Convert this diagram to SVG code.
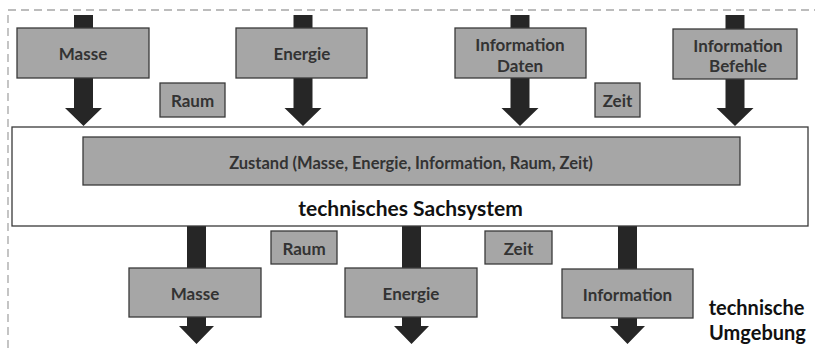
<svg xmlns="http://www.w3.org/2000/svg" width="815" height="351" viewBox="0 0 815 351">
<style>
.box{fill:#a6a6a6;stroke:#3a3a3a;stroke-width:1.3}
.arr{fill:#262626}
.t{font-family:Lato,"Liberation Sans",sans-serif;font-weight:bold;fill:#333;text-anchor:middle;dominant-baseline:central}
.l{font-size:17px}
.s{font-size:16.5px}
.b{font-size:21px;fill:#111}
.u{font-size:20px;fill:#111}
</style>
<rect x="8" y="10" width="820" height="350" fill="none" stroke="#a6a6a6" stroke-width="1.3" stroke-dasharray="8,5"/>
<g id="connectors">
<path class="arr" d="M74,15H93V108H102L83.5,126L65,108H74Z"/>
<path class="arr" d="M293.5,15H312.5V108H321.5L303,126L284.5,108H293.5Z"/>
<path class="arr" d="M510.5,15H529.5V108H538.5L520,126L501.5,108H510.5Z"/>
<path class="arr" d="M725.5,15H744.5V108H753.5L735,126L716.5,108H725.5Z"/>
<path class="arr" d="M187,226H206V326H214L196.5,344L179,326H187Z"/>
<path class="arr" d="M402,226H421V326H429L411.5,344L394,326H402Z"/>
<path class="arr" d="M618,226H637V326H645L627.5,344L610,326H618Z"/>
</g>
<g id="system">
<rect x="12" y="127" width="796" height="99" fill="#fff" stroke="#3a3a3a" stroke-width="1.3"/>
<text class="t b" x="410.5" y="207">technisches Sachsystem</text>
</g>
<g id="zustand">
<rect class="box" x="83" y="137" width="657" height="48"/>
<text class="t s" x="411" y="163">Zustand (Masse, Energie, Information, Raum, Zeit)</text>
</g>
<g id="in-masse"><rect class="box" x="17" y="28" width="132" height="50"/><text class="t l" x="83" y="53">Masse</text></g>
<g id="in-energie"><rect class="box" x="236" y="28" width="131" height="50"/><text class="t l" x="302" y="53">Energie</text></g>
<g id="in-daten"><rect class="box" x="455" y="28" width="131" height="50"/><text class="t l" x="520" y="44">Information</text><text class="t l" x="520" y="65">Daten</text></g>
<g id="in-befehle"><rect class="box" x="673" y="29" width="124" height="50"/><text class="t l" x="738" y="45">Information</text><text class="t l" x="738" y="65">Befehle</text></g>
<g id="in-raum"><rect class="box" x="160" y="83" width="65" height="34"/><text class="t l" x="192.5" y="100">Raum</text></g>
<g id="in-zeit"><rect class="box" x="595" y="83" width="45" height="34"/><text class="t l" x="617.5" y="100">Zeit</text></g>
<g id="out-raum"><rect class="box" x="271" y="231" width="66" height="33"/><text class="t l" x="304" y="248">Raum</text></g>
<g id="out-zeit"><rect class="box" x="485" y="231" width="67" height="33"/><text class="t l" x="518.5" y="248">Zeit</text></g>
<g id="out-masse"><rect class="box" x="129" y="268" width="132" height="49"/><text class="t l" x="195" y="293">Masse</text></g>
<g id="out-energie"><rect class="box" x="345" y="268" width="132" height="49"/><text class="t l" x="411" y="293">Energie</text></g>
<g id="out-information"><rect class="box" x="562" y="269" width="131" height="49"/><text class="t l" x="627.5" y="294">Information</text></g>
<g id="umgebung"><text class="t u" x="756.5" y="307">technische</text><text class="t u" x="757.5" y="332">Umgebung</text></g>
</svg>
